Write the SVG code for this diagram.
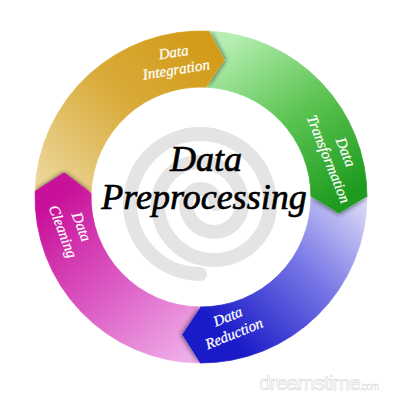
<svg xmlns="http://www.w3.org/2000/svg" width="400" height="400" viewBox="0 0 400 400">
  <style>
    .lbl{font-family:"Liberation Serif","DejaVu Serif",serif;font-style:italic;font-size:15px;fill:#ffffff;stroke:#ffffff;stroke-width:0.25;text-anchor:middle}
    .title{font-family:"Liberation Serif","DejaVu Serif",serif;font-style:italic;font-size:36px;fill:#000000;stroke:#000000;stroke-width:0.7;text-anchor:middle}
    .shadow{fill:#2a2a2a;opacity:0.9}
    .wm{font-family:"Liberation Sans","DejaVu Sans",sans-serif;fill:#ffffff;stroke:#d6d6d6;stroke-width:0.6}
  </style>
  <defs>
    <linearGradient id="gGold" gradientUnits="userSpaceOnUse" x1="60" y1="195" x2="205" y2="45">
      <stop offset="0" stop-color="#ecd596"/>
      <stop offset="0.55" stop-color="#d8aa38"/>
      <stop offset="1" stop-color="#d39c18"/>
    </linearGradient>
    <linearGradient id="gGreen" gradientUnits="userSpaceOnUse" x1="230" y1="40" x2="345" y2="200">
      <stop offset="0" stop-color="#b5eeb0"/>
      <stop offset="0.5" stop-color="#5cc452"/>
      <stop offset="1" stop-color="#1e9a1e"/>
    </linearGradient>
    <linearGradient id="gBlue" gradientUnits="userSpaceOnUse" x1="365" y1="205" x2="230" y2="340">
      <stop offset="0" stop-color="#d8d8f8"/>
      <stop offset="0.45" stop-color="#7878e6"/>
      <stop offset="1" stop-color="#1a1ac8"/>
    </linearGradient>
    <linearGradient id="gMag" gradientUnits="userSpaceOnUse" x1="195" y1="355" x2="55" y2="200">
      <stop offset="0" stop-color="#f0b0ea"/>
      <stop offset="0.5" stop-color="#dc5cc4"/>
      <stop offset="1" stop-color="#c8119a"/>
    </linearGradient>
    <filter id="soft" x="-50%" y="-50%" width="200%" height="200%">
      <feGaussianBlur stdDeviation="2.5"/>
    </filter>
    <path id="pGold" d="M 35.10 191.21 A 166 166 0 0 1 209.69 31.23 L 225.14 60.11 L 206.76 87.15 A 110 110 0 0 0 91.07 193.16 L 64.11 172.86 Z"/>
    <path id="pGreen" d="M 209.69 31.23 A 166 166 0 0 1 367 197 L 338.96 213.94 L 311 197 A 110 110 0 0 0 206.76 87.15 L 225.14 60.11 Z"/>
    <path id="pBlue" d="M 367 197 A 166 166 0 0 1 199.55 362.99 L 181.65 334.65 L 200.04 307 A 110 110 0 0 0 311 197 L 338.96 213.94 Z"/>
    <path id="pMag" d="M 199.55 362.99 A 166 166 0 0 1 35.10 191.21 L 64.11 172.86 L 91.07 193.16 A 110 110 0 0 0 200.04 307 L 181.65 334.65 Z"/>
    <clipPath id="cGold"><use href="#pGold"/></clipPath>
    <clipPath id="cGreen"><use href="#pGreen"/></clipPath>
    <clipPath id="cBlue"><use href="#pBlue"/></clipPath>
    <clipPath id="cMag"><use href="#pMag"/></clipPath>
  </defs>

  <rect width="400" height="400" fill="#ffffff"/>

  <!-- faint spiral watermark behind the title -->
  <path d="M 200 274 A 70 70 0 0 1 130 204 A 70 70 0 0 1 270 204 A 56 56 0 0 1 158 204 A 42 42 0 0 1 242 204 A 28 28 0 0 1 186 204 A 15 15 0 0 1 216 204" fill="none" stroke="#e4e4e4" stroke-width="14" stroke-linecap="round"/>

  <g id="data-integration">
    <use href="#pGold" fill="url(#gGold)" stroke="url(#gGold)" stroke-width="0.8"/>
    <g clip-path="url(#cGold)"><polygon class="shadow" filter="url(#soft)" points="35.10,191.21 64.11,172.86 91.07,193.16"/></g>
    <g transform="translate(175 62) rotate(-9)">
      <text class="lbl" x="0" y="-5">Data</text>
      <text class="lbl" x="0" y="12.5">Integration</text>
    </g>
  </g>

  <g id="data-transformation">
    <use href="#pGreen" fill="url(#gGreen)" stroke="url(#gGreen)" stroke-width="0.8"/>
    <g clip-path="url(#cGreen)"><polygon class="shadow" filter="url(#soft)" points="209.69,31.23 225.14,60.11 206.76,87.15"/></g>
    <g transform="translate(336 156) rotate(68)">
      <text class="lbl" x="0" y="-5.5">Data</text>
      <text class="lbl" x="0" y="13">Transformation</text>
    </g>
  </g>

  <g id="data-reduction">
    <use href="#pBlue" fill="url(#gBlue)" stroke="url(#gBlue)" stroke-width="0.8"/>
    <g clip-path="url(#cBlue)"><polygon class="shadow" filter="url(#soft)" points="367,197 338.96,213.94 311,197"/></g>
    <g transform="translate(231 326) rotate(-22)">
      <text class="lbl" x="0.5" y="-5">Data</text>
      <text class="lbl" x="0" y="13">Reduction</text>
    </g>
  </g>

  <g id="data-cleaning">
    <use href="#pMag" fill="url(#gMag)" stroke="url(#gMag)" stroke-width="0.8"/>
    <g clip-path="url(#cMag)"><polygon class="shadow" filter="url(#soft)" points="199.55,362.99 181.65,334.65 200.04,307"/></g>
    <g transform="translate(71 230) rotate(69)">
      <text class="lbl" x="0.8" y="-6">Data</text>
      <text class="lbl" x="-1.5" y="13">Cleaning</text>
    </g>
  </g>

  <g id="title">
    <text class="title" x="206" y="171">Data</text>
    <text class="title" x="204" y="209">Preprocessing</text>
  </g>

  <g id="connectors"></g>

  <text class="wm" x="259" y="390" font-size="21" textLength="120" lengthAdjust="spacing">dreamstime<tspan font-size="10" stroke-width="0.4">.com</tspan></text>
</svg>
